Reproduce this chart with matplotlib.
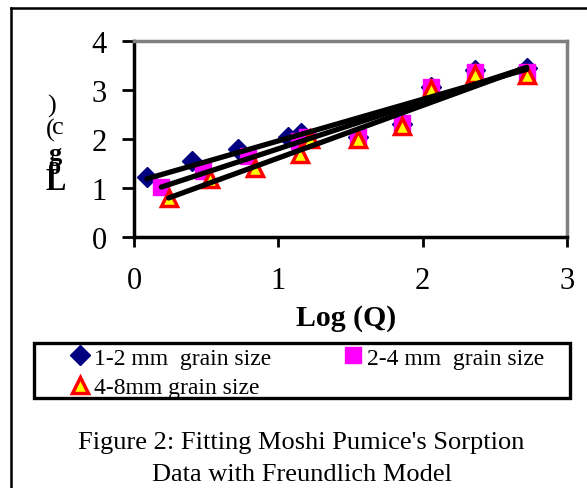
import numpy as np
import matplotlib
matplotlib.use("Agg")
import matplotlib.pyplot as plt
from matplotlib.lines import Line2D
from matplotlib.patches import Rectangle

plt.rcParams['font.family'] = ['Liberation Serif', 'DejaVu Serif']

# data (log Q, log c)
x_12 = [0.09, 0.40, 0.72, 1.07, 1.16, 1.55, 1.86, 2.06, 2.36, 2.72]
y_12 = [1.22, 1.55, 1.80, 2.05, 2.12, 2.05, 2.30, 3.06, 3.40, 3.45]
x_24 = [0.19, 0.48, 0.79, 1.14, 1.20, 1.55, 1.86, 2.06, 2.36, 2.72]
y_24 = [1.02, 1.35, 1.65, 1.96, 2.05, 2.05, 2.32, 3.07, 3.37, 3.36]
x_48 = [0.24, 0.53, 0.84, 1.15, 1.22, 1.55, 1.86, 2.06, 2.36, 2.72]
y_48 = [0.80, 1.18, 1.40, 1.70, 2.00, 2.00, 2.26, 3.02, 3.32, 3.30]
labels = ["1-2 mm  grain size", "2-4 mm  grain size", "4-8mm grain size"]
x_ticks = [0, 1, 2, 3]
y_ticks = [0, 1, 2, 3, 4]

W, H = 587, 489
fig = plt.figure(figsize=(W / 100, H / 100), dpi=100)
ax = fig.add_axes([134 / W, 1 - 238 / H, (567 - 134) / W, (238 - 42) / H])

h1, = ax.plot(x_12, y_12, 'D', color='#000080', markersize=10, markeredgecolor='#000080', zorder=3)
h2, = ax.plot(x_24, y_24, 's', color='#FF00FF', markersize=11, markeredgecolor='#FF00FF', zorder=4)
h3, = ax.plot(x_48, y_48, '^', color='#FFFF00', markersize=12, markeredgecolor='#FF0000',
              markeredgewidth=2.5, zorder=5)

for xs, ys in [(x_12, y_12), (x_24, y_24), (x_48, y_48)]:
    xs = np.array(xs); ys = np.array(ys)
    m, b = np.polyfit(xs, ys, 1)
    xx = np.array([xs.min(), xs.max()])
    ax.plot(xx, m * xx + b, color='black', lw=3.8, solid_capstyle='round', zorder=6)

ax.set_xlim(0, 3)
ax.set_ylim(0, 4)
ax.set_xticks(x_ticks)
ax.set_yticks(y_ticks)
ax.tick_params(axis='y', direction='out', length=8.5, width=2, labelsize=22, pad=11)
ax.tick_params(axis='x', direction='out', length=7, width=2, labelsize=22, pad=14)
for s in ['left', 'bottom']:
    ax.spines[s].set_linewidth(2.5)
    ax.spines[s].set_color('black')
for s in ['top', 'right']:
    ax.spines[s].set_linewidth(2.5)
    ax.spines[s].set_color('#808080')

fig.text(346 / W, 1 - 318 / H, "Log (Q)", fontsize=21.5, fontweight='bold', ha='center', va='center')

# garbled stacked y label
for ch, px, py, wt, fs in [("L", 56, 183, 'bold', 22), ("o", 55, 168, 'bold', 19), ("g", 55, 155, 'bold', 19),
                           ("(", 50, 130, 'normal', 19), ("c", 58, 128, 'normal', 19), (")", 52, 106, 'normal', 19)]:
    fig.text(px / W, 1 - py / H, ch, fontsize=fs, fontweight=wt, ha='center', va='center')

fig.add_artist(Rectangle((34 / W, 1 - 399 / H), (570 - 34) / W, (399 - 344) / H,
                         transform=fig.transFigure, fill=False, edgecolor='black', lw=2.4))
leg = fig.legend([h1, h3, h2], [labels[0], labels[2], labels[1]], ncol=2,
                 bbox_to_anchor=(72 / W, 1 - 348 / H), bbox_transform=fig.transFigure,
                 loc='upper left', fontsize=17, frameon=False, handlelength=0.65,
                 handletextpad=0.3, borderaxespad=0, borderpad=0.0, labelspacing=0.33,
                 columnspacing=3.1)

fig.text(301 / W, 1 - 443 / H, "Figure 2: Fitting Moshi Pumice's Sorption", fontsize=19,
         ha='center', va='center')
fig.text(302 / W, 1 - 475 / H, "Data with Freundlich Model", fontsize=19, ha='center', va='center')

# outer frame
fig.add_artist(Line2D([11 / W, 11 / W], [0, 1 - 9 / H], transform=fig.transFigure, color='black', lw=1.8))
fig.add_artist(Line2D([11 / W, 1], [1 - 9 / H, 1 - 9 / H], transform=fig.transFigure, color='black', lw=1.8))

fig.savefig("out.png", dpi=100)
